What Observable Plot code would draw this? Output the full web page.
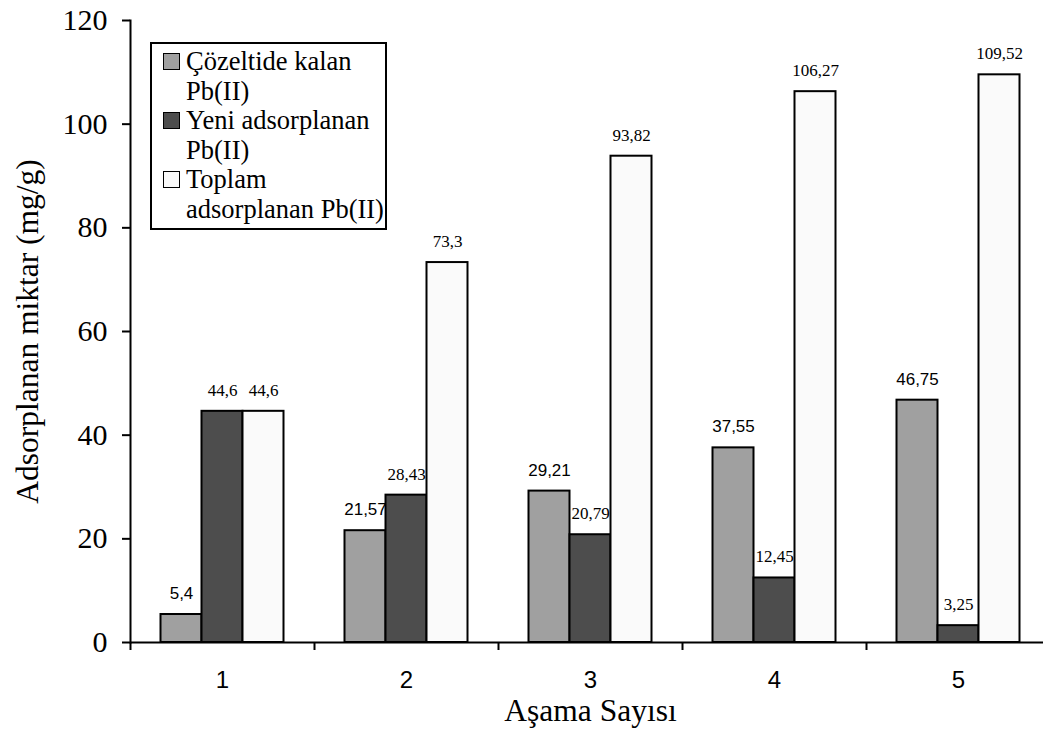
<!DOCTYPE html>
<html><head><meta charset="utf-8">
<script src="https://cdn.jsdelivr.net/npm/d3@7"></script>
<script src="https://cdn.jsdelivr.net/npm/@observablehq/plot@0.6"></script>
<style>
html,body{margin:0;padding:0;overflow:hidden;background:#fff;}
#wrap{position:relative;width:1043px;height:733px;overflow:hidden;}
#legend{position:absolute;left:150px;top:42px;width:233px;border:2px solid #000;background:#fff;padding:3px 0 4px 0;font-family:"Liberation Serif",Tinos,"Times New Roman",Times,serif;font-size:26.5px;line-height:29.5px;color:#000;}
.item{display:flex;align-items:flex-start;}
.sw{width:15px;height:15px;border:1.5px solid #000;margin:5.5px 6px 0 11px;flex:none;}
.lbl{width:204px;}
</style></head><body><div id="wrap"></div>
<script>
const stages = [1, 2, 3, 4, 5];
const seriesNames = ["Çözeltide kalan Pb(II)", "Yeni adsorplanan Pb(II)", "Toplam adsorplanan Pb(II)"];
const remaining = [5.4, 21.57, 29.21, 37.55, 46.75];
const newlyAdsorbed = [44.6, 28.43, 20.79, 12.45, 3.25];
const totalAdsorbed = [44.6, 73.3, 93.82, 106.27, 109.52];
const yTicks = [0, 20, 40, 60, 80, 100, 120];
const xTitle = "Aşama Sayısı";
const yTitle = "Adsorplanan miktar (mg/g)";

const seriesValues = [remaining, newlyAdsorbed, totalAdsorbed];
const colors = ["#a0a0a0", "#4d4d4d", "#fafafa"];
const serif = "Liberation Serif, Tinos, Times New Roman, Times, serif";
const sans = "Liberation Sans, Arimo, Arial, Helvetica, sans-serif";
const labelFonts = [sans, serif, serif];

const W = 1050, H = 733, mL = 130, mR = 0, mT = 20, mB = 91;
const band = (W - mL - mR) / stages.length;
const barW = 41;
const inset = (band - barW) / 2;

const marks = [];
seriesValues.forEach((vals, i) => {
  const rows = stages.map((s, j) => ({stage: s, value: vals[j]}));
  marks.push(Plot.barY(rows, {x: "stage", y: "value", fill: colors[i], stroke: "#000", strokeWidth: 2,
    insetLeft: inset, insetRight: inset, dx: (i - 1) * barW}));
  marks.push(Plot.text(rows, {x: "stage", y: "value", text: d => String(d.value).replace(".", ","),
    dx: (i - 1) * barW, dy: -21, fontFamily: labelFonts[i], fontSize: 17, fill: "#000"}));
});

const chart = Plot.plot({
  width: W, height: H, marginLeft: mL, marginRight: mR, marginTop: mT, marginBottom: mB,
  style: {fontFamily: serif, maxWidth: "none", background: "#fff", color: "#000", overflow: "visible"},
  x: {type: "band", domain: stages, padding: 0, axis: null},
  y: {domain: [0, 120], axis: null},
  marks: [
    ...marks,
    Plot.axisY(yTicks, {tickSize: 8, tickPadding: 15, strokeWidth: 2, fontSize: 30, fontFamily: serif, label: null}),
    Plot.axisX(stages, {tickSize: 0, tickPadding: 28, fontSize: 24, fontFamily: sans, label: null}),
    Plot.ruleX(stages, {x: d => d, dx: -band / 2, y1: 0, insetBottom: -8, strokeWidth: 2, stroke: "#000"}),
    Plot.frame({anchor: "left", strokeWidth: 2, stroke: "#000"}),
    Plot.ruleY([0], {strokeWidth: 2, stroke: "#000"}),
    Plot.text([yTitle], {frameAnchor: "left", textAnchor: "middle", rotate: -90, dx: -93, lineAnchor: "bottom", fontSize: 31.5, fontFamily: serif, fill: "#000"}),
    Plot.text([xTitle], {frameAnchor: "bottom", textAnchor: "middle", dy: 78, lineAnchor: "bottom", fontSize: 31.5, fontFamily: serif, fill: "#000"})
  ]
});
const wrap = document.getElementById("wrap");
wrap.appendChild(chart);

const legend = document.createElement("div");
legend.id = "legend";
seriesNames.forEach((name, i) => {
  const item = document.createElement("div");
  item.className = "item";
  const sw = document.createElement("div");
  sw.className = "sw";
  sw.style.background = colors[i];
  const lbl = document.createElement("div");
  lbl.className = "lbl";
  lbl.textContent = name;
  item.appendChild(sw);
  item.appendChild(lbl);
  legend.appendChild(item);
});
wrap.appendChild(legend);
</script>
</body></html>
